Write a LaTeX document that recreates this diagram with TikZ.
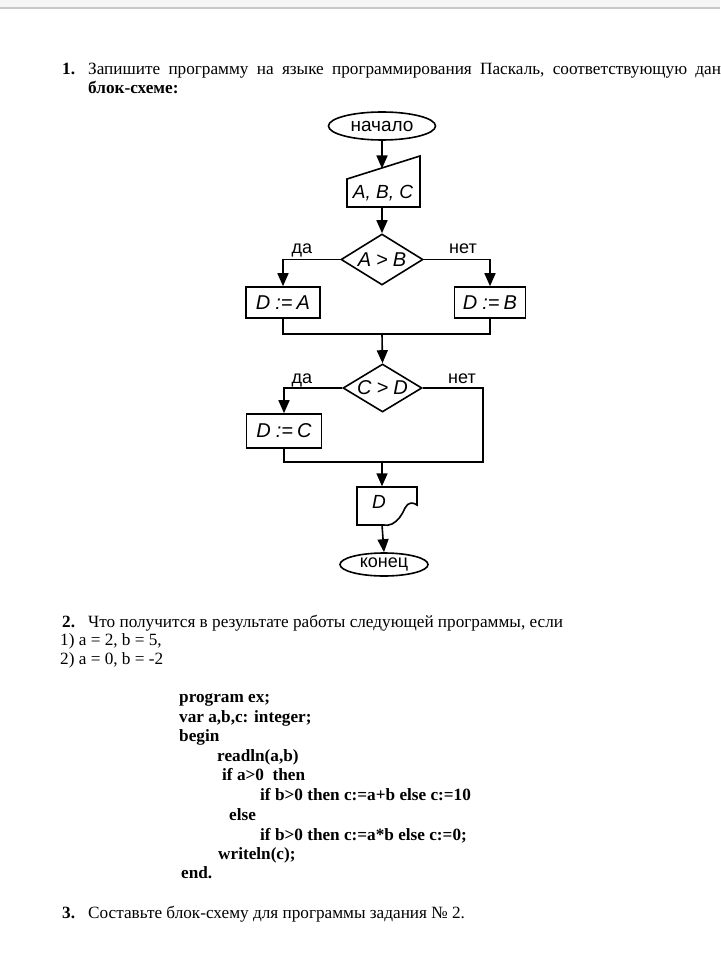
\documentclass[tikz,border=0pt]{standalone}
\usepackage{fontspec}
\setmainfont{Liberation Serif}
\newfontfamily\fcsans{Liberation Sans}
\usetikzlibrary{shapes.geometric,arrows.meta}
\definecolor{barbg}{HTML}{F5F5F5}
\definecolor{barline}{HTML}{C8C8C8}
\begin{document}
\begin{tikzpicture}[x=1pt,y=-1pt,
  txt/.style={anchor=base west,inner sep=0pt,font=\fontsize{17.2}{20}\selectfont},
  code/.style={anchor=base west,inner sep=0pt,font=\fontsize{17.2}{20}\selectfont\bfseries},
  fc/.style={font=\fcsans\fontsize{19}{21}\selectfont},
  fcb/.style={font=\fcsans\fontsize{20}{22}\selectfont},
  lbl/.style={font=\fcsans\fontsize{18}{20}\selectfont,inner sep=0pt,anchor=base},
  line/.style={line width=1.6pt},
  arr/.style={line width=1.6pt,-{Triangle[length=13pt,width=11pt]}},
  term/.style={fc,ellipse,draw,line width=1.6pt,inner sep=0pt},
  procbox/.style={fcb,rectangle,draw,line width=1.6pt,inner sep=0pt},
  decis/.style={fcb,diamond,draw,line width=1.6pt,inner sep=0pt,aspect=1.6},
  plain/.style={fc,inner sep=0pt}]
\useasboundingbox (0,0) rectangle (720,968);
\clip (0,0) rectangle (720,968);
\fill[white] (0,0) rectangle (720,968);
\fill[barbg] (0,0) rectangle (720,7);
\fill[barline] (0,7) rectangle (720,9);

% Task 1 text
\node[txt] (n1) at (62,75) {\textbf{1.}};
\node[txt] (t1) at (88,75) {\spaceskip=8.3pt\relax Запишите программу на языке программирования Паскаль, соответствующую данной};
\node[txt] (t1b) at (88,94) {\textbf{блок-схеме:}};

% Flowchart
\node[term,minimum width=107pt,minimum height=28pt] (start) at (382,126) {начало};
\node[plain,minimum width=74pt,minimum height=28pt] (inp) at (383,193) {\itshape A, B, C};
\draw[line] (347,179) -- (420,156) -- (420,207) -- (347,207) -- cycle;
\coordinate (inTop) at (382,168.5);
\coordinate (inBot) at (382,207);
\draw[arr] (start.south) -- (inTop);

\node[decis,minimum width=82pt,minimum height=51pt] (d1) at (382,259.5) {\itshape A\hspace{5pt}>\hspace{5pt}B};
\draw[arr] (inBot) -- (d1.north);
\node[lbl] (da1) at (302,253) {да};
\node[lbl] (net1) at (463,253) {нет};

\node[procbox,minimum width=74pt,minimum height=31pt] (b1) at (283,302.5) {\itshape D\hspace{5pt}:=\hspace{4pt}A};
\node[procbox,minimum width=71pt,minimum height=31pt] (b2) at (490,302.5) {\itshape D\hspace{5pt}:=\hspace{4pt}B};
\draw[arr] (d1.west) -| (b1.north);
\draw[arr] (d1.east) -| (b2.north);
\coordinate (m1) at (382,334);
\draw[line] (b1.south) |- (m1) -| (b2.south);

\node[decis,minimum width=79pt,minimum height=48pt] (d2) at (382.5,388) {\itshape C\hspace{5pt}>\hspace{5pt}D};
\draw[arr] (m1) -- (d2.north);
\node[lbl] (da2) at (302,383) {да};
\node[lbl] (net2) at (462,383) {нет};

\node[procbox,minimum width=75pt,minimum height=34pt] (b3) at (284,431) {\itshape D\hspace{5pt}:=\hspace{4pt}C};
\draw[arr] (d2.west) -| (b3.north);
\coordinate (c2) at (483,462);
\coordinate (m2) at (382,462);
\draw[line] (d2.east) -| (c2) -| (b3.south);

\node[inner sep=0pt,minimum width=61pt,minimum height=39pt] (doc) at (386.5,506) {};
\node[plain] (doct) at (379,502) {\itshape D};
\draw[line] (357,487) -- (417,487) -- (417,505)
  .. controls (413,502) and (408,502) .. (405,508)
  .. controls (402,515) and (398,521) .. (392,524)
  .. controls (389,525.5) and (386,525.5) .. (384,525)
  -- (357,525) -- cycle;
\draw[arr] (m2) -- (m2 |- doc.north);
\coordinate (docb) at (382,525);

\node[term,font=\fcsans\fontsize{18}{20}\selectfont,minimum width=88pt,minimum height=23pt] (end) at (384,564.5) {конец};
\draw[arr] (docb) -- (end.north);

% Task 2
\node[txt] (n2) at (62,627) {\textbf{2.}};
\node[txt] (t2) at (88,627) {Что получится в результате работы следующей программы, если};
\node[txt] (t2a) at (60,645) {1) a = 2, b = 5,};
\node[txt] (t2b) at (60,664) {2) a = 0, b = -2};

\node[code] (c1) at (179,702) {program ex;};
\node[code] (c2t) at (179,722) {var a,b,c: integer;};
\node[code] (c3) at (179,741) {begin};
\node[code] (c4) at (217,761) {readln(a,b)};
\node[code] (c5) at (222,780) {if a>0\ \ then};
\node[code] (c6) at (260,800) {if b>0 then c:=a+b else c:=10};
\node[code] (c7) at (229,820) {else};
\node[code] (c8) at (260,840) {if b>0 then c:=a*b else c:=0;};
\node[code] (c9) at (218,859) {writeln(c);};
\node[code] (c10) at (181,878) {end.};

% Task 3
\node[txt] (n3) at (62,918) {\textbf{3.}};
\node[txt] (t3) at (88,918) {Составьте блок-схему для программы задания №~2.};
\end{tikzpicture}
\end{document}
